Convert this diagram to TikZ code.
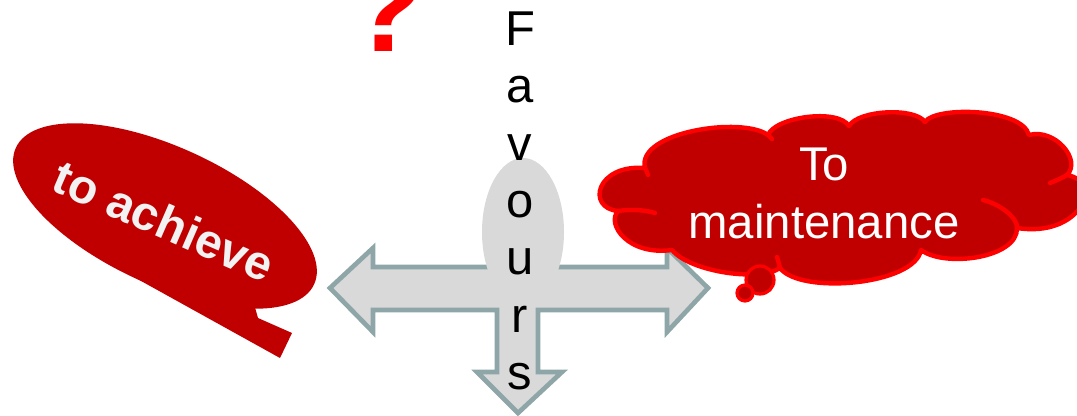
\documentclass[tikz,border=0pt]{standalone}
\usepackage{fontspec}
\setmainfont{Liberation Sans}
\usetikzlibrary{shapes.geometric}
\definecolor{calloutred}{RGB}{192,0,0}
\definecolor{brightred}{RGB}{255,0,0}
\definecolor{crossgray}{RGB}{217,217,217}
\definecolor{crossedge}{RGB}{143,166,168}
\definecolor{offwhite}{RGB}{242,242,242}

\begin{document}
\begin{tikzpicture}[x=0.75pt, y=-0.75pt,
  cloudline/.style={draw=brightred, line width=3.3pt, line join=round, line cap=round},
  bubble/.style={circle, draw=brightred, fill=calloutred, line width=2.4pt, inner sep=0pt}]
\useasboundingbox (0,0) rectangle (1077,416);
\clip (0,0) rectangle (1077,416);

% three-way arrow in the middle
\draw[draw=crossedge, fill=crossgray, line width=3.5pt, line join=miter]
  (330,288) -- (373,248) -- (373,267) -- (667,267) -- (667,248) -- (708,288)
  -- (667,332) -- (667,310) -- (538,310) -- (538,372) -- (562,372) -- (518,413)
  -- (477,372) -- (497,372) -- (497,310) -- (373,310) -- (373,332) -- cycle;
\node[ellipse, fill=crossgray, minimum width=61.5pt, minimum height=111pt] (hub) at (523,232) {};
\node[font=\fontsize{36.7}{43}\selectfont, align=center, inner sep=0pt] (favours) at (520,201) {F\\a\\v\\o\\u\\r\\s};

\node[font=\fontsize{93}{100}\selectfont\bfseries, text=brightred, anchor=base west, inner sep=0pt] (query) at (348,52) {?};

% left oval callout
\fill[calloutred] (114,266) -- (250,290) -- (258,318) -- (292,333) -- (280,358) -- cycle;
\node[ellipse, fill=calloutred, rotate=-24.6, minimum width=246pt, minimum height=103.5pt] (achieve) at (165,216) {};
\node[rotate=-23.5, text=offwhite, font=\fontsize{36}{40}\selectfont\bfseries, inner sep=0pt] (achievetext) at (164,221) {to achieve};

% right cloud callout, puff by puff
\path[cloudline, fill=calloutred]
  (672,250) .. controls (628,256) and (606,224) .. (618,211)
  .. controls (586,208) and (596,164) .. (645,168)
  .. controls (636,132) and (742,116) .. (768,135)
  .. controls (775,117) and (838,108) .. (849,126)
  .. controls (858,110) and (915,107) .. (925,122)
  .. controls (935,106) and (1022,108) .. (1029,135)
  .. controls (1055,128) and (1082,160) .. (1067,175)
  .. controls (1105,182) and (1080,238) .. (1017,228)
  .. controls (1018,258) and (945,268) .. (921,250)
  .. controls (915,285) and (800,295) .. (780,268)
  .. controls (760,282) and (690,272) .. (672,250) -- cycle;
\draw[cloudline] (618,211) .. controls (632,209) and (645,210) .. (655,213);
\draw[cloudline] (645,168) .. controls (646,170) and (647,172) .. (648,175);
\draw[cloudline] (768,135) -- (772,139);
\draw[cloudline] (1067,175) .. controls (1060,179) and (1055,181) .. (1050,183);
\draw[cloudline] (1017,228) .. controls (1018,218) and (1000,204) .. (983,200);
\draw[cloudline] (780,268) .. controls (779,264) and (778,260) .. (777,257);
\node[text=white, font=\fontsize{35.5}{43.5}\selectfont, align=center, inner sep=0pt] (keeptext) at (824,193) {To\\maintenance};
\node[bubble, minimum size=21pt] (bubbleA) at (760,280) {};
\node[bubble, minimum size=12pt] (bubbleB) at (745,293) {};
\end{tikzpicture}
\end{document}
